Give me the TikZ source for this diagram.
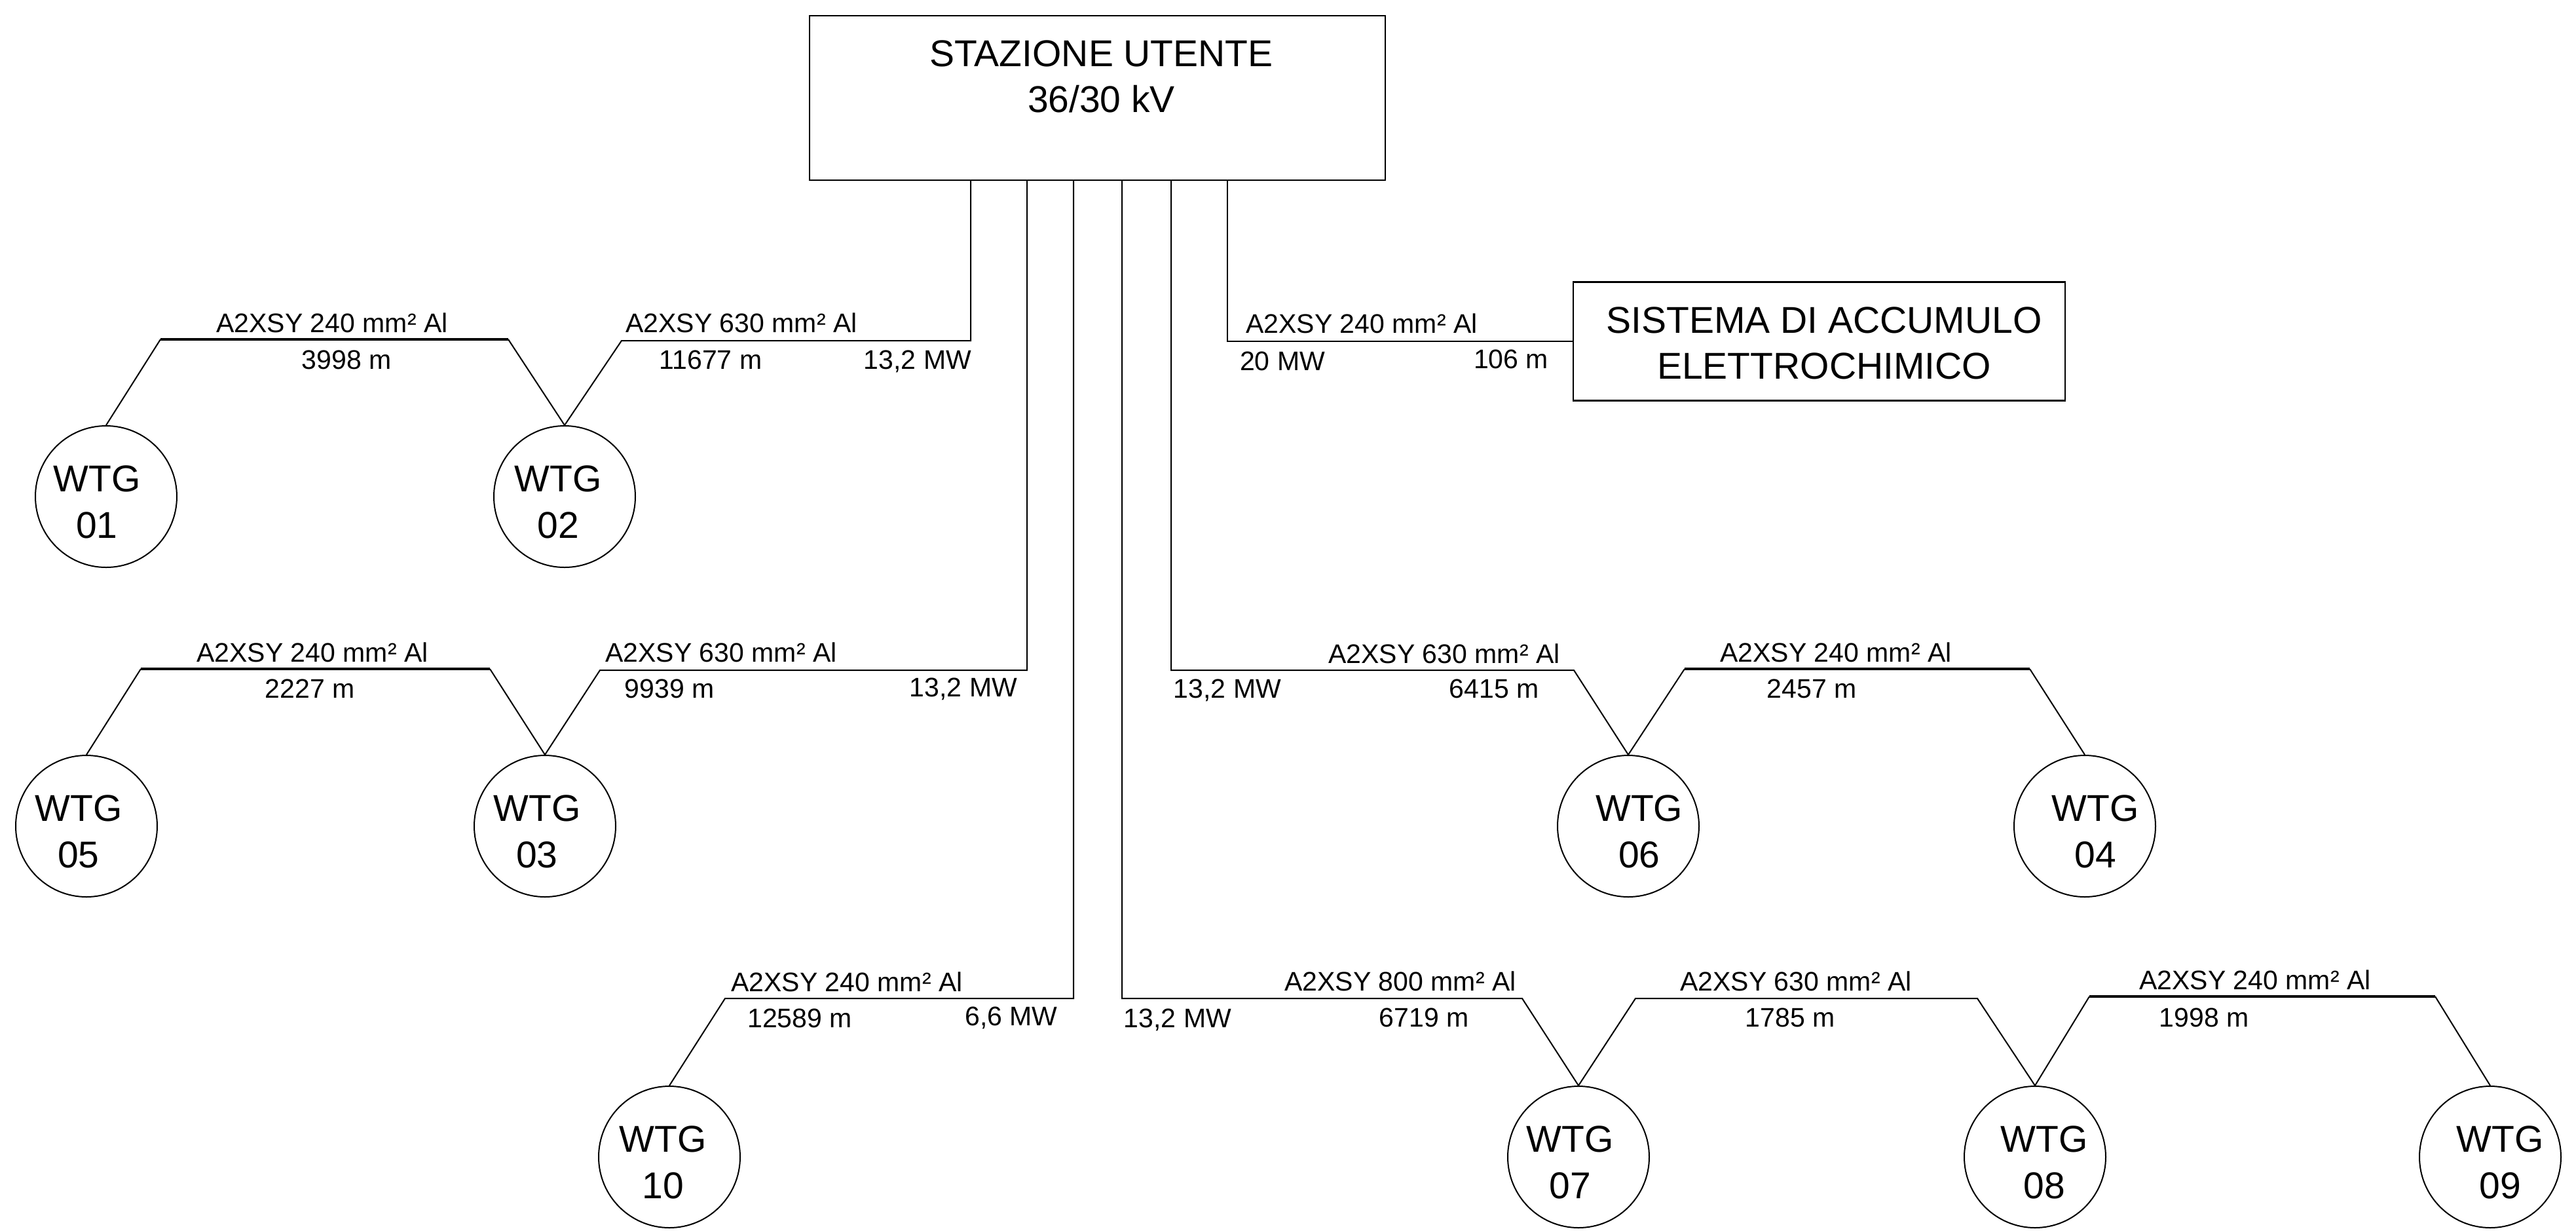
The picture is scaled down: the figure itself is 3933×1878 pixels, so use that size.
\documentclass[tikz,border=0pt]{standalone}
\usepackage{fontspec}
\setmainfont{Liberation Sans}
\begin{document}
\begin{tikzpicture}[x=0.25pt,y=-0.25pt,
  wire/.style={line width=0.5pt},
  bus/.style={line width=0.85pt},
  box/.style={draw,line width=0.55pt,rectangle,inner sep=0pt},
  wtg/.style={draw,line width=0.5pt,circle,minimum size=54pt,inner sep=0pt},
  bigtxt/.style={font=\fontsize{14.25}{17.5}\selectfont,align=center,inner sep=0pt},
  wtgtxt/.style={font=\fontsize{14.25}{17.75}\selectfont,align=center,inner sep=0pt,yshift=-2pt},
  lab/.style={font=\fontsize{10.25}{12}\selectfont,inner sep=0pt,anchor=base}]
\useasboundingbox (0,0) rectangle (3933,1878);

% main boxes
\node[box,minimum width=219.75pt,minimum height=62.75pt,
  label={[bigtxt,xshift=1.5pt,yshift=8.25pt]center:{STAZIONE UTENTE\\36/30 kV}}] (st) at (1675.5,149.5) {};
\node[box,minimum width=187.75pt,minimum height=45.25pt,
  label={[bigtxt,xshift=1.9pt,yshift=-0.6pt]center:{SISTEMA DI ACCUMULO\\ELETTROCHIMICO}}] (bess) at (2777.5,521) {};

% turbines
\node[wtg,label={[wtgtxt,xshift=-3.5pt]center:{WTG\\01}}] (w01) at (162,758) {};
\node[wtg,label={[wtgtxt,xshift=-2.5pt]center:{WTG\\02}}] (w02) at (862,758) {};
\node[wtg,label={[wtgtxt,xshift=-3pt]center:{WTG\\05}}] (w05) at (132,1261) {};
\node[wtg,label={[wtgtxt,xshift=-3pt]center:{WTG\\03}}] (w03) at (832,1261) {};
\node[wtg,label={[wtgtxt,xshift=4.2pt]center:{WTG\\06}}] (w06) at (2486,1261) {};
\node[wtg,label={[wtgtxt,xshift=4pt]center:{WTG\\04}}] (w04) at (3183,1261) {};
\node[wtg,label={[wtgtxt,xshift=-2.5pt]center:{WTG\\10}}] (w10) at (1022,1766) {};
\node[wtg,label={[wtgtxt,xshift=-3.2pt]center:{WTG\\07}}] (w07) at (2410,1766) {};
\node[wtg,label={[wtgtxt,xshift=3.5pt]center:{WTG\\08}}] (w08) at (3107,1766) {};
\node[wtg,label={[wtgtxt,xshift=3.8pt]center:{WTG\\09}}] (w09) at (3802,1766) {};

% drop points on the station box
\coordinate (dA) at (1482,275);
\coordinate (dB) at (1568,275);
\coordinate (dC) at (1639,275);
\coordinate (dD) at (1713,275);
\coordinate (dE) at (1788,275);
\coordinate (dF) at (1874,275);

% bends
\coordinate (aK) at (949,520);
\coordinate (k1a) at (245,518);
\coordinate (k1b) at (776,518);
\coordinate (bK) at (916,1023);
\coordinate (k2a) at (215,1021);
\coordinate (k2b) at (748,1021);
\coordinate (cK) at (1107,1524);
\coordinate (dK) at (2324,1524);
\coordinate (k3a) at (2497,1524);
\coordinate (k3b) at (3019,1524);
\coordinate (k4a) at (3190,1521);
\coordinate (k4b) at (3718,1521);
\coordinate (eK) at (2403,1023);
\coordinate (k5a) at (2572,1021);
\coordinate (k5b) at (3099,1021);

% feeders
\draw[wire] (dA) |- (aK) -- (w02.north);
\draw[wire] (w01.north) -- (k1a);
\draw[bus] (k1a) -- (k1b);
\draw[wire] (k1b) -- (w02.north);

\draw[wire] (dB) |- (bK) -- (w03.north);
\draw[wire] (w05.north) -- (k2a);
\draw[bus] (k2a) -- (k2b);
\draw[wire] (k2b) -- (w03.north);

\draw[wire] (dC) |- (cK) -- (w10.north);

\draw[wire] (dD) |- (dK) -- (w07.north);
\draw[wire] (w07.north) -- (k3a) -- (k3b) -- (w08.north);
\draw[wire] (w08.north) -- (k4a);
\draw[bus] (k4a) -- (k4b);
\draw[wire] (k4b) -- (w09.north);

\draw[wire] (dE) |- (eK) -- (w06.north);
\draw[wire] (w06.north) -- (k5a);
\draw[bus] (k5a) -- (k5b);
\draw[wire] (k5b) -- (w04.north);

\draw[wire] (dF) |- (bess.west);

% labels feeder A
\node[lab] (la1) at (507,507) {A2XSY 240 mm² Al};
\node[lab] (la2) at (529,563) {3998 m};
\node[lab] (la3) at (1132,507) {A2XSY 630 mm² Al};
\node[lab] (la4) at (1085,563) {11677 m};
\node[lab] (la5) at (1401,563) {13,2 MW};
% labels feeder B
\node[lab] (lb1) at (477,1010) {A2XSY 240 mm² Al};
\node[lab] (lb2) at (473,1065) {2227 m};
\node[lab] (lb3) at (1101,1010) {A2XSY 630 mm² Al};
\node[lab] (lb4) at (1022,1065) {9939 m};
\node[lab] (lb5) at (1471,1063) {13,2 MW};
% labels feeder C
\node[lab] (lc1) at (1293,1513) {A2XSY 240 mm² Al};
\node[lab] (lc2) at (1221,1568) {12589 m};
\node[lab] (lc3) at (1544,1565) {6,6 MW};
% labels feeder D
\node[lab] (ld1) at (2138,1512) {A2XSY 800 mm² Al};
\node[lab] (ld2) at (1798,1568) {13,2 MW};
\node[lab] (ld3) at (2174,1567) {6719 m};
\node[lab] (ld4) at (2742,1512) {A2XSY 630 mm² Al};
\node[lab] (ld5) at (2733,1567) {1785 m};
\node[lab] (ld6) at (3443,1510) {A2XSY 240 mm² Al};
\node[lab] (ld7) at (3365,1567) {1998 m};
% labels feeder E
\node[lab] (le1) at (1874,1065) {13,2 MW};
\node[lab] (le2) at (2205,1012) {A2XSY 630 mm² Al};
\node[lab] (le3) at (2281,1065) {6415 m};
\node[lab] (le4) at (2803,1010) {A2XSY 240 mm² Al};
\node[lab] (le5) at (2766,1065) {2457 m};
% labels feeder F
\node[lab] (lf1) at (2079,508) {A2XSY 240 mm² Al};
\node[lab] (lf2) at (1958,565) {20 MW};
\node[lab] (lf3) at (2307,562) {106 m};
\end{tikzpicture}
\end{document}
